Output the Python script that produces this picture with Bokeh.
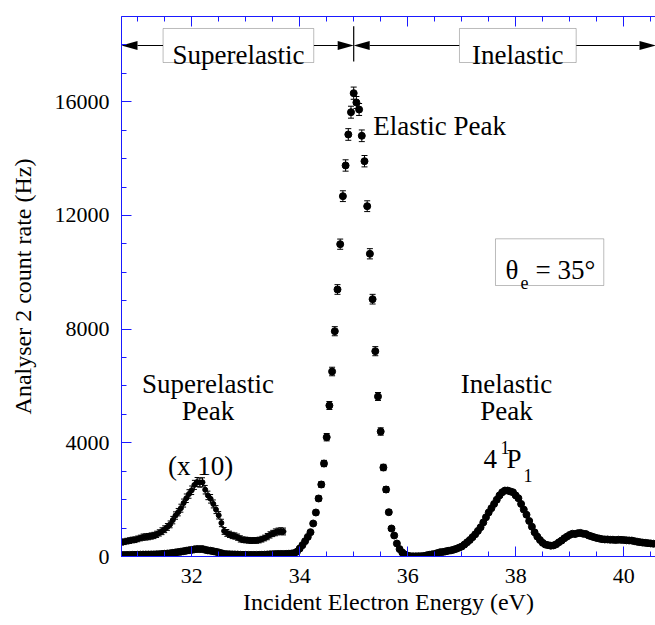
import numpy as np
from bokeh.plotting import figure
from bokeh.models import (ColumnDataSource, Whisker, TeeHead, Label, LinearAxis,
                          SingleIntervalTicker, Range1d, BoxAnnotation,
                          CustomLabelingPolicy)
from bokeh.embed import file_html
from bokeh.resources import INLINE

# ---------------------------------------------------------------------------
# Measured spectrum: analyser 2 count rate (Hz) on a 0.05 eV energy grid
# ---------------------------------------------------------------------------
E_START, E_STEP = 30.70, 0.05

# 30.70 - 33.70 eV (superelastic region)
counts_superelastic = [50, 52, 54, 56, 58, 59, 62, 65, 68, 69,
                       70, 72, 74, 78, 83, 89, 96, 104, 113, 128,
                       144, 156, 170, 188, 205, 220, 233, 252, 262, 260,
                       261, 235, 215, 203, 185, 165, 145, 118, 90, 83,
                       78, 74, 72, 68, 62, 59, 58, 57, 56, 56.5,
                       56.5, 58, 61, 65, 70, 76, 81, 85, 88, 89, 88]
err_superelastic = [10, 10, 10, 10, 10, 10, 10, 10, 11, 11,
                    11, 11, 11, 11, 11, 12, 12, 12, 12, 13,
                    13, 13, 14, 14, 15, 15, 15, 16, 16, 16,
                    16, 15, 15, 15, 14, 14, 13, 13, 12, 12,
                    11, 11, 11, 11, 11, 10, 10, 10, 10, 10,
                    10, 10, 10, 10, 11, 11, 11, 12, 12, 12, 12]

# 33.75 - 34.15 eV (foot of the elastic peak)
counts_rise = [92, 98, 105, 120, 170, 280, 400, 540, 690]

# 34.20 - 35.80 eV (elastic peak)
counts_elastic = [855, 1161, 1548, 2041, 2533, 3272, 4198, 5313, 6509, 7927,
                  9395, 10989, 12678, 13758, 14849, 15633, 16302, 15975, 15728, 14803,
                  13909, 12326, 10651, 9054, 7224, 5630, 4398, 3132, 2357, 1559,
                  985, 739, 457]
err_elastic = [60, 70, 80, 90, 100, 110, 130, 140, 150, 160,
               170, 180, 190, 200, 205, 210, 215, 210, 210, 205,
               200, 190, 180, 170, 160, 140, 130, 110, 100, 80,
               70, 60, 50]

# 35.85 - 40.55 eV (inelastic region, 4 1P1 excitation)
counts_inelastic = [260, 140, 70, 30,
                    10, 5, 5, 10, 10, 20, 40, 60, 75, 90,
                    120, 150, 160, 180, 200, 215, 240, 270, 310,
                    350, 420, 500, 580, 680, 780, 900, 1030, 1200, 1380,
                    1550, 1700, 1850, 2000, 2150, 2260, 2320, 2320, 2290, 2260,
                    2150, 2050, 1850, 1650, 1470, 1250, 1050, 850, 700, 580,
                    480, 420, 400, 380, 390, 430, 500, 560, 640, 700,
                    760, 800, 790, 820, 830, 800, 790, 740, 710, 680,
                    650, 630, 610, 600, 600, 590, 590, 580, 590, 585,
                    580, 570, 565, 560, 540, 520, 505, 490, 480, 470,
                    460, 450]

SUPER_SCALE = 10  # superelastic region is also shown magnified (x 10)

# ---------------------------------------------------------------------------
counts = np.concatenate([counts_superelastic, counts_rise,
                         counts_elastic, counts_inelastic]).astype(float)
energy = np.round(E_START + E_STEP * np.arange(len(counts)), 2)

n_sup = len(counts_superelastic)
i_el = n_sup + len(counts_rise)
i_el_end = i_el + len(counts_elastic)

X_RANGE = (30.70, 40.589)
Y_RANGE = (0, 19000)
FRAME_W, FRAME_H = 534, 540
FONT = "Liberation Serif"
AXIS_BLUE = "#1a1aff"


def px_x(n):
    return n * (X_RANGE[1] - X_RANGE[0]) / FRAME_W


def px_y(n):
    return n * (Y_RANGE[1] - Y_RANGE[0]) / FRAME_H


p = figure(width=655, height=625, output_backend="svg", toolbar_location=None,
           x_range=Range1d(*X_RANGE), y_range=Range1d(*Y_RANGE),
           min_border_left=121, min_border_right=0,
           min_border_top=16, min_border_bottom=69,
           x_axis_label="Incident Electron Energy (eV)",
           y_axis_label="Analyser 2 count rate (Hz)")
p.outline_line_color = None
p.grid.visible = False
p.background_fill_color = "white"
p.border_fill_color = "white"

# the mirrored top axis carries tick marks only
no_labels = CustomLabelingPolicy(code="""
    try { return new indices.constructor(indices.size) }
    catch (e) { return indices }
""")


def style_axis(ax, labels=True):
    ax.axis_line_color = AXIS_BLUE
    ax.major_tick_line_color = AXIS_BLUE
    ax.minor_tick_line_color = AXIS_BLUE
    ax.major_tick_in = 10
    ax.major_tick_out = 0
    ax.minor_tick_in = 5
    ax.minor_tick_out = 0
    ax.major_label_text_font = FONT
    ax.major_label_text_color = "black"
    ax.axis_label_text_font = FONT
    ax.axis_label_text_font_style = "normal"
    ax.axis_label_text_color = "black"
    if labels:
        ax.major_label_text_font_size = "22px"
        ax.axis_label_text_font_size = "24px"
    else:
        ax.major_label_text_font_size = "1px"
        ax.major_label_standoff = 0
        ax.major_label_policy = no_labels


x_ticker = SingleIntervalTicker(interval=2, num_minor_ticks=4)
y_ticker = SingleIntervalTicker(interval=4000, num_minor_ticks=4)

xa = p.xaxis[0]
xa.ticker = x_ticker
style_axis(xa)
xa.major_label_standoff = 12
xa.axis_label_standoff = 3

ya = p.yaxis[0]
ya.ticker = y_ticker
style_axis(ya)
ya.major_label_standoff = 12
ya.axis_label_standoff = 16

top = LinearAxis(ticker=SingleIntervalTicker(interval=2, num_minor_ticks=4))
style_axis(top, labels=False)
p.add_layout(top, "above")

# ---------------------------------------------------------------------------
# error bars
el_src = ColumnDataSource(dict(
    x=energy[i_el:i_el_end],
    lo=np.array(counts_elastic) - np.array(err_elastic),
    hi=np.array(counts_elastic) + np.array(err_elastic)))
p.add_layout(Whisker(source=el_src, base="x", lower="lo", upper="hi",
                     line_color="black", line_width=1,
                     lower_head=TeeHead(size=6, line_color="black", line_width=1),
                     upper_head=TeeHead(size=6, line_color="black", line_width=1)))

sup_y = np.array(counts_superelastic) * SUPER_SCALE
sup_e = np.array(err_superelastic) * SUPER_SCALE
sup_src = ColumnDataSource(dict(x=energy[:n_sup], y=sup_y,
                                lo=sup_y - sup_e, hi=sup_y + sup_e))
p.add_layout(Whisker(source=sup_src, base="x", lower="lo", upper="hi",
                     line_color="black", line_width=1,
                     lower_head=TeeHead(size=5, line_color="black", line_width=1),
                     upper_head=TeeHead(size=5, line_color="black", line_width=1)))

# data points
p.scatter(energy, counts, size=7, color="black")
p.scatter("x", "y", source=sup_src, size=5, color="black")

# ---------------------------------------------------------------------------
# region markers along the top
ARROW_Y = 17980
BOX_BOT, BOX_TOP = 17381, 18578
E_DIV = 35.0
sup_box = (31.47, 34.26)
inel_box = (36.959, 39.12)

for l, r in (sup_box, inel_box):
    p.add_layout(BoxAnnotation(left=l, right=r, bottom=BOX_BOT, top=BOX_TOP,
                               fill_color="white", fill_alpha=1.0,
                               line_color="#222222", line_width=1, level="overlay"))

head_l, head_w = px_x(16), px_y(4.5)
arrows = [  # (tip, tail)
    (X_RANGE[0], sup_box[0]),
    (E_DIV, sup_box[1]),
    (E_DIV, inel_box[0]),
    (X_RANGE[1], inel_box[1]),
]
for tip, tail in arrows:
    d = 1 if tip > tail else -1
    base = tip - d * head_l
    p.segment(x0=[tail], y0=[ARROW_Y], x1=[base], y1=[ARROW_Y],
              line_color="black", line_width=1.2)
    p.patch([tip, base, base], [ARROW_Y, ARROW_Y + head_w, ARROW_Y - head_w],
            color="black", line_width=0)
p.segment(x0=[E_DIV], y0=[18658], x1=[E_DIV], y1=[17417],
          line_color="black", line_width=1.2)


def label(x, y, text, size=27, align="left"):
    p.add_layout(Label(x=x, y=y, text=text, text_font=FONT,
                       text_font_size=f"{size}px", text_color="black",
                       text_align=align, text_baseline="alphabetic",
                       level="overlay"))


label(sum(sup_box) / 2, 17628, "Superelastic", align="center")
label(sum(inel_box) / 2, 17628, "Inelastic", align="center")

label(35.361, 15130, "Elastic Peak")

label(32.302, 6087, "Superelastic", align="center")
label(32.302, 5112, "Peak", align="center")
label(32.163, 3167, "(x 10)", align="center")

label(37.830, 6087, "Inelastic", align="center")
label(37.830, 5112, "Peak", align="center")
label(37.404, 3413, "4")
label(37.719, 3835, "1", size=18)
label(37.830, 3413, "P")
label(38.144, 2850, "1", size=18)

# scattering angle
p.add_layout(BoxAnnotation(left=37.626, right=39.631, bottom=9535, top=11178,
                           fill_color="white", fill_alpha=1.0,
                           line_color="#222222", line_width=1))
label(37.811, 10063, "θ")
label(38.089, 9641, "e", size=18)
label(38.367, 10063, "= 35°")

open("out.html", "w").write(file_html(p, INLINE))
